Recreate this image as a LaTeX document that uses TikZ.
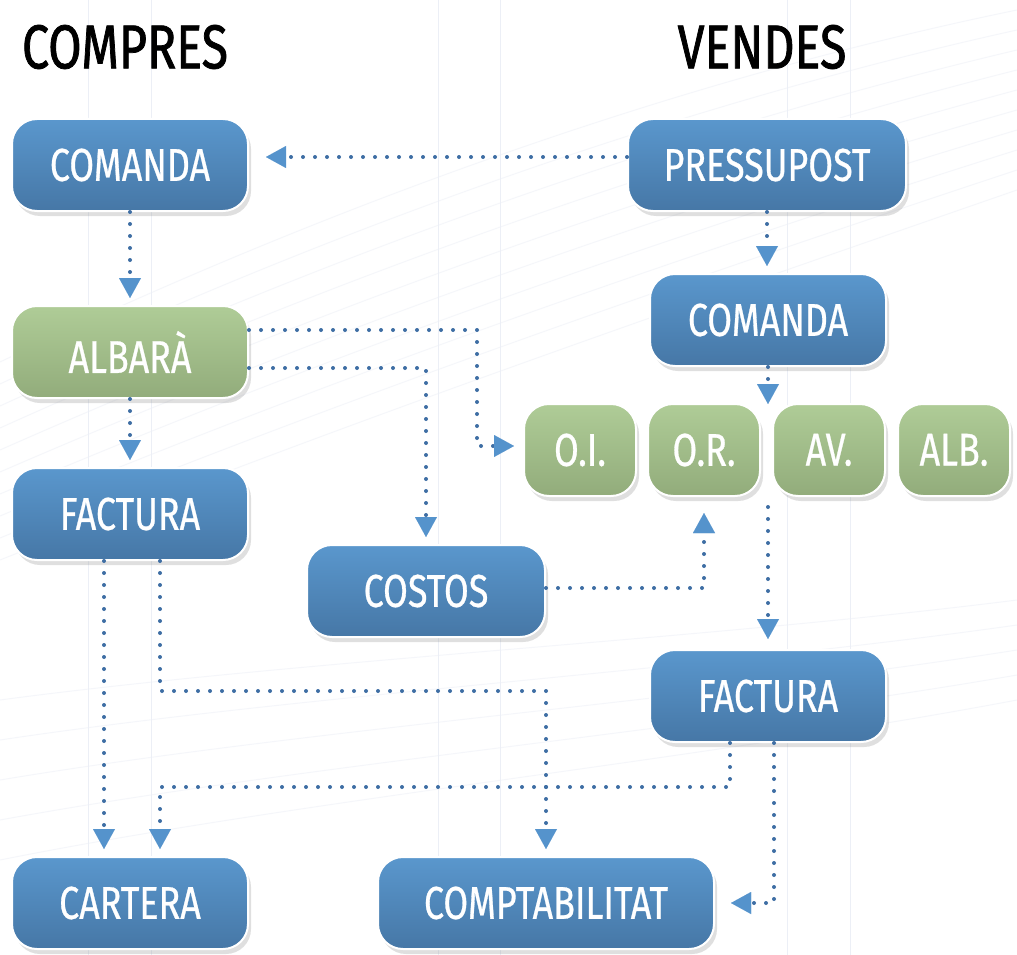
\documentclass[tikz,border=0pt]{standalone}
\usepackage{fontspec}
\usetikzlibrary{arrows.meta,shadows}
\newfontfamily\boxfont[FakeStretch=0.78,FakeBold=0.6]{Fira Sans}
\newfontfamily\ttlfont[FakeStretch=0.78,FakeBold=1.2]{Fira Sans}
\definecolor{btop}{HTML}{5A97CD}
\definecolor{bbot}{HTML}{4677A6}
\definecolor{gtop}{HTML}{AFCC97}
\definecolor{gbot}{HTML}{92AC7B}
\definecolor{dotc}{HTML}{3E6EA4}
\definecolor{tipc}{HTML}{5593CC}
\definecolor{bgl}{HTML}{ECEFF6}
\tikzset{
 box/.style={rounded corners=25pt, draw=white, line width=2pt, minimum width=236pt, minimum height=92pt, inner sep=0pt, text=white, font=\boxfont\fontsize{46}{46}\selectfont, drop shadow={shadow xshift=3pt, shadow yshift=-5pt, opacity=0.25}},
 bluebox/.style={box, top color=btop, bottom color=bbot},
 greenbox/.style={box, top color=gtop, bottom color=gbot},
 smallbox/.style={greenbox, minimum width=112pt},
 conn/.style={draw=dotc, line width=4pt, line cap=round, dash pattern=on 0pt off 12pt, -{Triangle[length=20pt,width=22pt,color=tipc,line width=0.01pt]}, shorten >=7pt},
 ttl/.style={font=\ttlfont\fontsize{62}{62}\selectfont, text=black},
 bgline/.style={draw=bgl, line width=1pt}
}
\begin{document}
\begin{tikzpicture}[x=1pt,y=-1pt]
\useasboundingbox (0,0) rectangle (1017,955);
\fill[white] (0,0) rectangle (1017,955);
% background decoration
\foreach \x in {88,151,438,500,787,850} \draw[bgline] (\x,0) -- (\x,955);
\foreach \k in {0,...,9} \draw[bgline, draw opacity=0.5] (0,{560-\k*22}) .. controls (350,{420-\k*25}) and (700,{300-\k*25}) .. (1017,{190-\k*20});
\foreach \k in {0,...,4} \draw[bgline, draw opacity=0.5] (0,{700+\k*40}) .. controls (300,{660+\k*35}) and (700,{640+\k*30}) .. (1017,{600+\k*25});
% titles
\node[ttl] (tc) at (125,47) {COMPRES};
\node[ttl] (tv) at (762,47) {VENDES};
% boxes
\node[bluebox] (cl) at (130,165) {COMANDA};
\node[bluebox, minimum width=278pt] (pre) at (767,165) {PRESSUPOST};
\node[bluebox] (cr) at (768,320) {COMANDA};
\node[greenbox] (alb) at (130,352) {ALBARÀ};
\node[bluebox] (fl) at (130,514) {FACTURA};
\node[smallbox] (oi) at (580,450) {O.I.};
\node[smallbox] (or) at (704,450) {O.R.};
\node[smallbox] (av) at (829,450) {AV.};
\node[smallbox] (albv) at (954,450) {ALB.};
\node[bluebox, minimum width=238pt] (cos) at (426,591) {COSTOS};
\node[bluebox] (fr) at (768,696) {FACTURA};
\node[bluebox] (car) at (130,903) {CARTERA};
\node[bluebox, minimum width=336pt] (comp) at (546,903) {COMPTABILITAT};
% connectors
\draw[conn, shorten >=17pt] ([yshift=8pt]pre.west) -- ([yshift=8pt]cl.east);
\draw[conn] (cl.south) -- (alb.north);
\draw[conn] (alb.south) -- (fl.north);
\draw[conn] (pre.south) -- (cr.north -| pre.south);
\draw[conn, shorten >=-1pt] (cr.south) -- (cr.south |- or.north);
\draw[conn, shorten >=9pt] ([yshift=22pt]alb.east) -| ([xshift=-46pt,yshift=4pt]oi.west) -- ([yshift=4pt]oi.west);
\draw[conn] ([yshift=-16pt]alb.east) -| (cos.north);
\draw[conn, shorten >=16pt] ([yshift=3pt]cos.east) -| (or.south);
\draw[conn, shorten >=10pt] ([yshift=-10pt]cr.south |- or.south) -- (fr.north);
\draw[conn] ([xshift=-26pt]fl.south) -- ([xshift=-26pt]car.north);
\draw[conn] ([xshift=30pt]fl.south) -- ++(0,130) -| (comp.north);
\draw[conn] ([xshift=-38pt]fr.south) -- ++(0,44) -| ([xshift=30pt]car.north);
\draw[conn, shorten >=16pt] ([xshift=6pt]fr.south) |- (comp.east);
\end{tikzpicture}
\end{document}
